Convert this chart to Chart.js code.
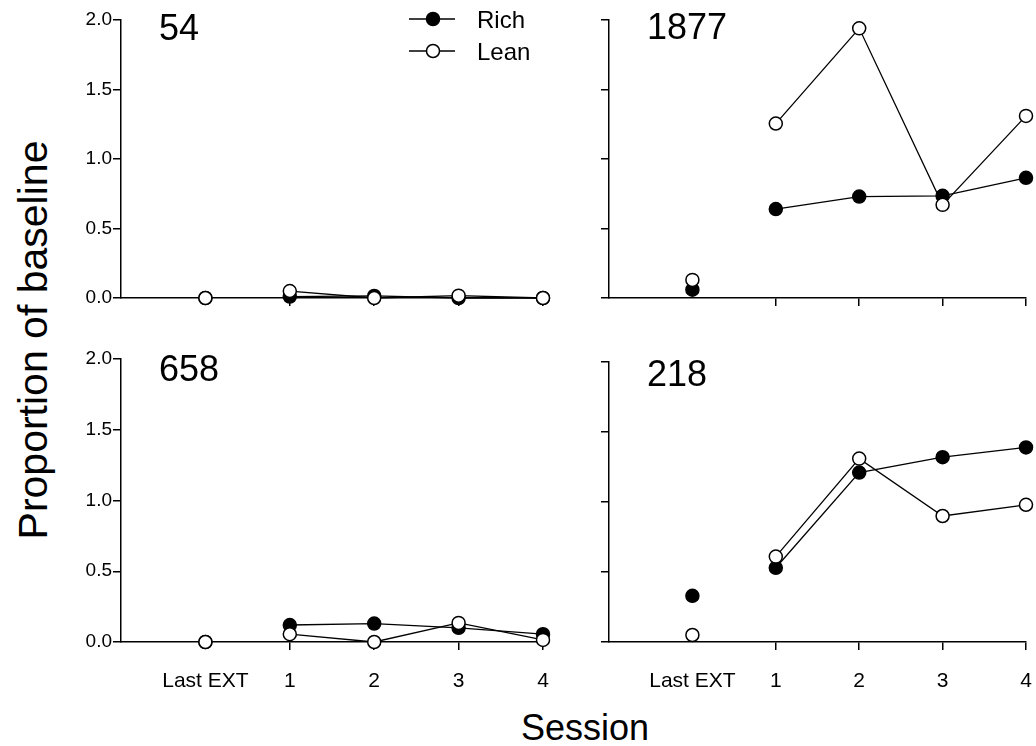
<!DOCTYPE html>
<html lang="en">

<head>
    <title>Proportion of baseline</title>
    <meta charset="utf-8">
    <script src="https://cdn.jsdelivr.net/npm/chart.js"></script>
    <style>
        body {
            margin: 0;
            background: #fff;
            font-family: "Liberation Sans", Arial, sans-serif;
        }

        #wrap {
            position: relative;
            width: 1036px;
            height: 746px;
            overflow: hidden;
        }

        canvas {
            position: absolute;
        }

        .title {
            position: absolute;
            color: #000;
            white-space: nowrap;
        }

        #y-title {
            left: 33px;
            top: 340px;
            font-size: 41px;
            line-height: 41px;
            transform: translate(-50%, -50%) rotate(-90deg);
        }

        #x-title {
            left: 585px;
            top: 710px;
            font-size: 36px;
            line-height: 36px;
            transform: translateX(-50%);
        }
    </style>
</head>

<body>
    <div id="wrap">
        <canvas id="c54" width="498" height="328" style="left:60px;top:0px"></canvas>
        <canvas id="c1877" width="476" height="328" style="left:560px;top:0px"></canvas>
        <canvas id="c658" width="498" height="362" style="left:60px;top:340px"></canvas>
        <canvas id="c218" width="476" height="362" style="left:560px;top:340px"></canvas>
        <div class="title" id="y-title">Proportion of baseline</div>
        <div class="title" id="x-title">Session</div>
    </div>

    <script>
        // sessions on the x axis (index 0 = Last EXT)
        const sessions = ['Last EXT', '1', '2', '3', '4'];
        const yTicks = [0, 0.5, 1.0, 1.5, 2.0];

        // subject 54
        const rich54 = [0, 0.01, 0.015, 0, 0];
        const lean54 = [0, 0.05, 0, 0.017, 0];
        // subject 1877
        const rich1877 = [0.06, 0.64, 0.73, 0.735, 0.865];
        const lean1877 = [0.13, 1.255, 1.94, 0.67, 1.31];
        // subject 658
        const rich658 = [0, 0.12, 0.13, 0.10, 0.055];
        const lean658 = [0, 0.055, 0, 0.135, 0.015];
        // subject 218
        const rich218 = [0.33, 0.53, 1.21, 1.32, 1.39];
        const lean218 = [0.05, 0.61, 1.31, 0.90, 0.98];

        Chart.defaults.font.family = '"Liberation Sans", Arial, sans-serif';
        Chart.defaults.color = '#000';

        const FONT = '"Liberation Sans", Arial, sans-serif';

        // big number in the corner of each panel
        const panelLabel = {
            id: 'panelLabel',
            afterDraw(chart, args, opts) {
                const ctx = chart.ctx;
                const a = chart.chartArea;
                ctx.save();
                ctx.fillStyle = '#000';
                ctx.font = '36px ' + FONT;
                ctx.textBaseline = 'alphabetic';
                ctx.fillText(opts.text, a.left + 38, a.top + opts.dy);
                ctx.restore();
            }
        };

        // line + marker legend, only on the first panel
        const lineLegend = {
            id: 'lineLegend',
            afterDraw(chart, args, opts) {
                if (!opts.show) return;
                const ctx = chart.ctx;
                const a = chart.chartArea;
                const x = a.left + 312;
                chart.data.datasets.forEach(function (ds, i) {
                    const y = a.top - 1 + i * 32;
                    ctx.save();
                    ctx.strokeStyle = '#000';
                    ctx.lineWidth = 1.5;
                    ctx.beginPath();
                    ctx.moveTo(x - 24, y);
                    ctx.lineTo(x + 22, y);
                    ctx.stroke();
                    ctx.beginPath();
                    ctx.arc(x, y, 6.5, 0, Math.PI * 2);
                    ctx.fillStyle = ds.pointBackgroundColor;
                    ctx.fill();
                    ctx.stroke();
                    ctx.fillStyle = '#000';
                    ctx.font = '24px ' + FONT;
                    ctx.textBaseline = 'alphabetic';
                    ctx.fillText(ds.label, x + 44, y + 9);
                    ctx.restore();
                });
            }
        };

        function series(label, values, fill, order) {
            return {
                label: label,
                order: order,
                clip: false,
                data: values.map(function (v, i) { return { x: i, y: v }; }),
                borderColor: '#000',
                borderWidth: 1.3,
                pointRadius: 6.5,
                pointHoverRadius: 6.5,
                pointBorderWidth: 1.5,
                pointBorderColor: '#000',
                pointBackgroundColor: fill,
                segment: {
                    // Last EXT is not joined to session 1
                    borderColor: function (ctx) { return ctx.p0DataIndex === 0 ? 'rgba(0,0,0,0)' : '#000'; }
                }
            };
        }

        function makePanel(id, name, rich, lean, o) {
            return new Chart(document.getElementById(id), {
                type: 'line',
                data: {
                    // lean (open circles) sits on top of rich
                    datasets: [series('Rich', rich, '#000', 1), series('Lean', lean, '#fff', 0)]
                },
                options: {
                    responsive: false,
                    animation: false,
                    events: [],
                    layout: {
                        padding: { left: 0, right: o.padRight, top: o.padTop, bottom: 0 }
                    },
                    scales: {
                        x: {
                            type: 'linear',
                            min: -1,
                            max: 4,
                            afterBuildTicks: function (scale) {
                                scale.ticks = [-1, 0, 1, 2, 3, 4].map(function (v) { return { value: v }; });
                            },
                            afterFit: function (scale) {
                                scale.height = o.xHeight;
                                scale.paddingLeft = 0;
                                scale.paddingRight = 0;
                            },
                            ticks: {
                                autoSkip: false,
                                maxRotation: 0,
                                padding: 19,
                                font: { size: 21 },
                                callback: function (v) { return (o.xLabels && v >= 0) ? sessions[v] : ''; }
                            },
                            grid: {
                                drawOnChartArea: false,
                                drawTicks: true,
                                tickLength: 8,
                                lineWidth: 1.5,
                                color: function (ctx) { return ctx.tick && ctx.tick.value >= 1 ? '#000' : 'rgba(0,0,0,0)'; }
                            },
                            border: { display: true, color: '#000', width: 1.5 }
                        },
                        y: {
                            min: 0,
                            max: 2,
                            afterBuildTicks: function (scale) {
                                scale.ticks = yTicks.map(function (v) { return { value: v }; });
                            },
                            afterFit: function (scale) { scale.width = o.yWidth; },
                            ticks: {
                                padding: 1,
                                font: { size: 19 },
                                callback: function (v) { return o.yLabels ? v.toFixed(1) : ''; }
                            },
                            grid: {
                                drawOnChartArea: false,
                                drawTicks: true,
                                tickLength: 8,
                                lineWidth: 1.5,
                                color: '#000'
                            },
                            border: { display: true, color: '#000', width: 1.5 }
                        }
                    },
                    plugins: {
                        legend: { display: false },
                        tooltip: { enabled: false },
                        panelLabel: { text: name, dy: o.labelDy },
                        lineLegend: { show: !!o.legend }
                    }
                },
                plugins: [panelLabel, lineLegend]
            });
        }

        makePanel('c54', '54', rich54, lean54,
            { padRight: 15, padTop: 20, xHeight: 30, yWidth: 61, yLabels: true, xLabels: false, labelDy: 20, legend: true });
        makePanel('c1877', '1877', rich1877, lean1877,
            { padRight: 10, padTop: 20, xHeight: 30, yWidth: 49, yLabels: false, xLabels: false, labelDy: 19 });
        makePanel('c658', '658', rich658, lean658,
            { padRight: 15, padTop: 19, xHeight: 60, yWidth: 61, yLabels: true, xLabels: true, labelDy: 22 });
        makePanel('c218', '218', rich218, lean218,
            { padRight: 10, padTop: 22, xHeight: 60, yWidth: 49, yLabels: false, xLabels: true, labelDy: 24 });
    </script>
</body>

</html>
